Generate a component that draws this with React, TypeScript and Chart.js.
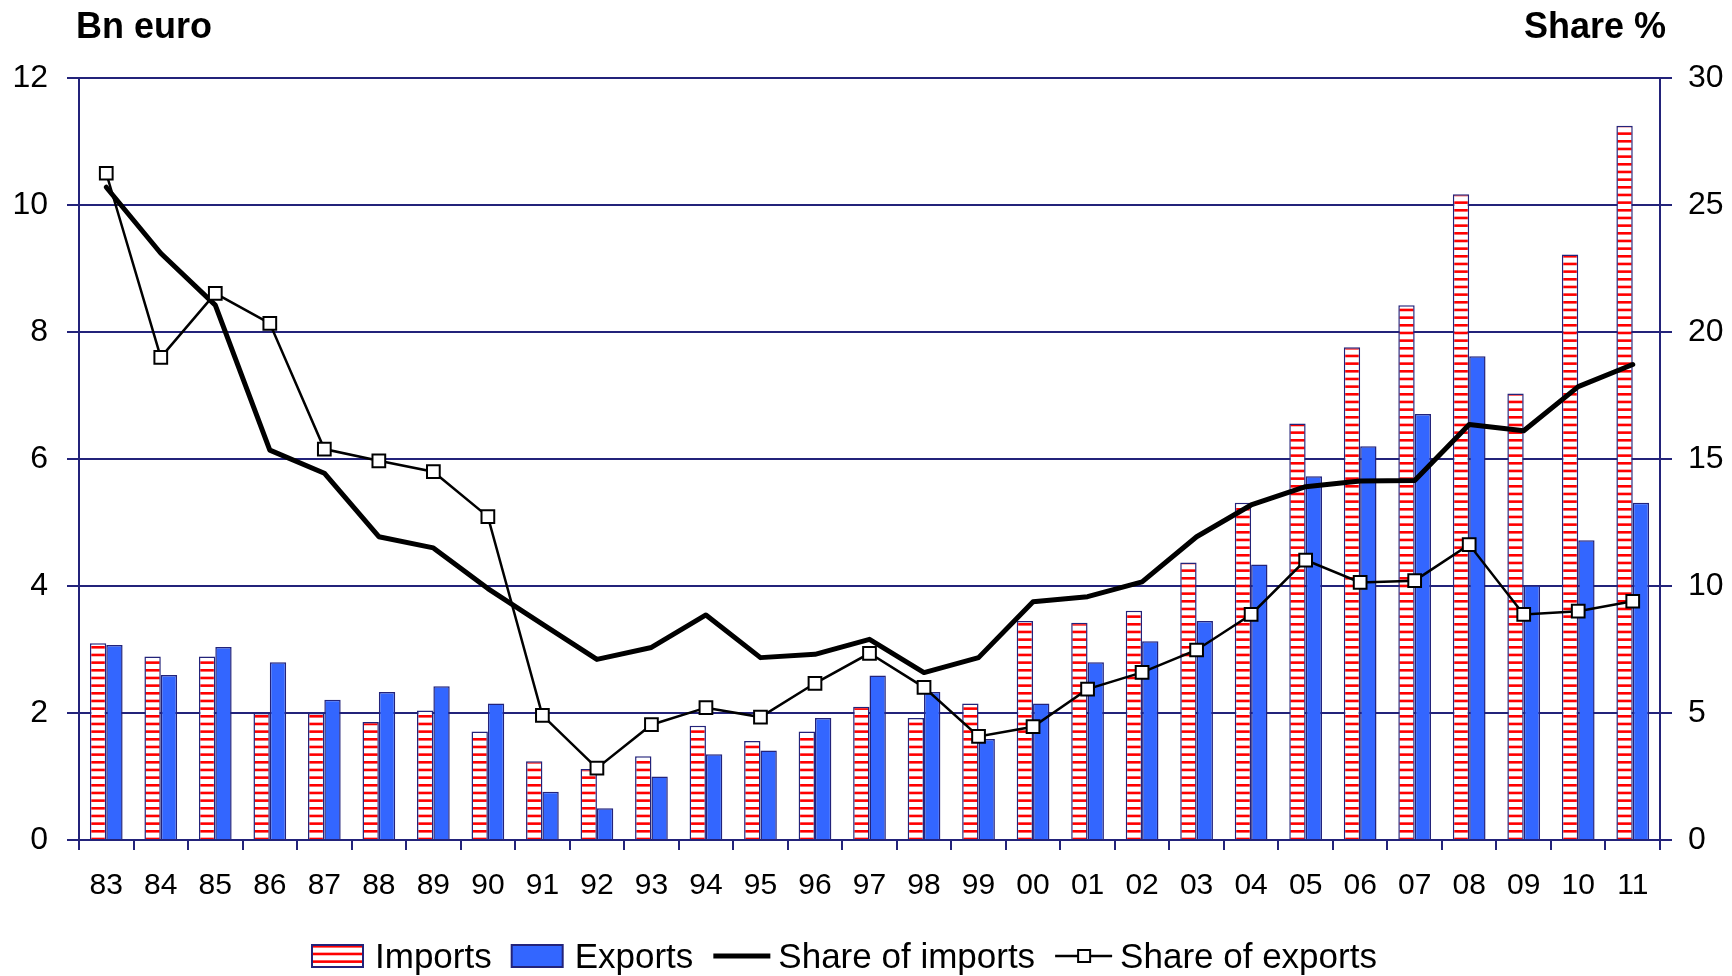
import React, { useEffect, useRef } from 'react';
import { Chart, registerables } from 'chart.js';

Chart.register(...registerables);

const YEARS = ['83', '84', '85', '86', '87', '88', '89', '90', '91', '92', '93', '94', '95', '96', '97', '98', '99', '00', '01', '02', '03', '04', '05', '06', '07', '08', '09', '10', '11'];
const IMPORTS = [3.10, 2.89, 2.89, 2.00, 2.00, 1.86, 2.04, 1.71, 1.24, 1.12, 1.32, 1.80, 1.56, 1.71, 2.10, 1.92, 2.15, 3.45, 3.42, 3.61, 4.37, 5.31, 6.56, 7.76, 8.42, 10.17, 7.03, 9.22, 11.25];
const EXPORTS = [3.07, 2.60, 3.04, 2.80, 2.21, 2.33, 2.42, 2.15, 0.76, 0.50, 1.00, 1.35, 1.41, 1.92, 2.59, 2.33, 1.59, 2.15, 2.80, 3.13, 3.45, 4.34, 5.73, 6.20, 6.71, 7.62, 4.01, 4.72, 5.31];
const SHARE_IMPORTS = [25.7, 23.1, 21.06, 15.35, 14.44, 11.94, 11.5, 9.9, 8.5, 7.11, 7.58, 8.86, 7.18, 7.31, 7.90, 6.59, 7.18, 9.38, 9.58, 10.16, 11.94, 13.19, 13.91, 14.13, 14.15, 16.36, 16.11, 17.85, 18.72];
const SHARE_EXPORTS = [26.25, 19.0, 21.52, 20.34, 15.39, 14.93, 14.50, 12.73, 4.91, 2.83, 4.54, 5.21, 4.84, 6.17, 7.35, 6.01, 4.08, 4.46, 5.94, 6.60, 7.48, 8.88, 11.02, 10.14, 10.21, 11.63, 8.88, 9.01, 9.40];

const LEFT_TITLE = 'Bn euro';
const RIGHT_TITLE = 'Share %';
const LEFT_MAX = 12;
const LEFT_STEP = 2;
const RIGHT_MAX = 30;
const RIGHT_STEP = 5;

const NAVY = '#23237a';
const BLUE = '#3366ff';
const FONT = '"Liberation Sans", Arial, Helvetica, sans-serif';

function makeStripePattern(ctx: CanvasRenderingContext2D): CanvasPattern | string {
  const c = document.createElement('canvas');
  c.width = 8;
  c.height = 23;
  const g = c.getContext('2d');
  if (!g) return '#ff8888';
  g.fillStyle = '#ffffff';
  g.fillRect(0, 0, 8, 23);
  g.fillStyle = '#ff0000';
  for (let i = 0; i < 3; i++) g.fillRect(0, 2 + (i * 23) / 3, 8, 2.6);
  return ctx.createPattern(c, 'repeat') || '#ff8888';
}

export default function App() {
  const ref = useRef<HTMLCanvasElement | null>(null);

  useEffect(() => {
    const canvas = ref.current;
    if (!canvas) return;
    const ctx0 = canvas.getContext('2d') as CanvasRenderingContext2D;
    const stripes = makeStripePattern(ctx0);

    const overlay = {
      id: 'overlay',
      afterDraw(chart: any) {
        const ctx: CanvasRenderingContext2D = chart.ctx;
        ctx.save();
        ctx.fillStyle = '#000';
        ctx.font = `bold 36px ${FONT}`;
        ctx.textBaseline = 'alphabetic';
        ctx.textAlign = 'left';
        ctx.fillText(LEFT_TITLE, 76, 38);
        ctx.textAlign = 'right';
        ctx.fillText(RIGHT_TITLE, 1666, 38);

        // legend
        const ds = chart.data.datasets;
        const items = [
          { kind: 'stripes', label: ds[2].label },
          { kind: 'blue', label: ds[3].label },
          { kind: 'thick', label: ds[1].label },
          { kind: 'marker', label: ds[0].label },
        ];
        ctx.font = `35px ${FONT}`;
        ctx.textAlign = 'left';
        ctx.textBaseline = 'alphabetic';
        const cy = 956;
        let x = 312;
        for (const it of items) {
          if (it.kind === 'stripes' || it.kind === 'blue') {
            ctx.fillStyle = it.kind === 'stripes' ? (stripes as any) : BLUE;
            ctx.fillRect(x, cy - 11, 51, 22);
            ctx.strokeStyle = NAVY;
            ctx.lineWidth = 2;
            ctx.strokeRect(x, cy - 11, 51, 22);
            x += 51 + 12;
          } else {
            ctx.strokeStyle = '#000';
            ctx.lineWidth = it.kind === 'thick' ? 5 : 2.5;
            ctx.beginPath();
            ctx.moveTo(x, cy);
            ctx.lineTo(x + 57, cy);
            ctx.stroke();
            if (it.kind === 'marker') {
              ctx.fillStyle = '#fff';
              ctx.fillRect(x + 23, cy - 6, 12, 12);
              ctx.lineWidth = 2;
              ctx.strokeRect(x + 23, cy - 6, 12, 12);
            }
            x += 57 + 8;
          }
          ctx.fillStyle = '#000';
          ctx.fillText(it.label, x, 968);
          x += ctx.measureText(it.label).width + 20;
        }
        ctx.restore();
      },
    };

    const chart = new Chart(canvas, {
      type: 'bar',
      data: {
        labels: YEARS,
        datasets: [
          {
            type: 'line',
            label: 'Share of exports',
            data: SHARE_EXPORTS,
            yAxisID: 'y1',
            borderColor: '#000',
            borderWidth: 2.5,
            pointStyle: 'rect',
            pointRadius: 9,
            pointBackgroundColor: '#fff',
            pointBorderColor: '#000',
            pointBorderWidth: 2,
            tension: 0,
            fill: false,
            order: 0,
          } as any,
          {
            type: 'line',
            label: 'Share of imports',
            data: SHARE_IMPORTS,
            yAxisID: 'y1',
            borderColor: '#000',
            borderWidth: 5,
            pointRadius: 0,
            tension: 0,
            fill: false,
            borderJoinStyle: 'round',
            borderCapStyle: 'round',
            order: 1,
          } as any,
          {
            type: 'bar',
            label: 'Imports',
            data: IMPORTS,
            yAxisID: 'y',
            backgroundColor: stripes as any,
            borderColor: NAVY,
            borderWidth: 1.5,
            categoryPercentage: 0.6,
            barPercentage: 1.0,
            order: 2,
          } as any,
          {
            type: 'bar',
            label: 'Exports',
            data: EXPORTS,
            yAxisID: 'y',
            backgroundColor: BLUE,
            borderColor: NAVY,
            borderWidth: 1.5,
            categoryPercentage: 0.6,
            barPercentage: 1.0,
            order: 2,
          } as any,
        ],
      },
      options: {
        responsive: false,
        animation: false,
        devicePixelRatio: 1,
        layout: { padding: { top: 78, bottom: 72, left: 0, right: 0 } },
        plugins: {
          legend: { display: false },
          tooltip: { enabled: false },
        },
        scales: {
          x: {
            offset: true,
            grid: {
              drawOnChartArea: false,
              drawTicks: true,
              tickLength: 10,
              color: NAVY,
              lineWidth: 2,
              offset: true,
            },
            border: { display: true, color: NAVY, width: 2 },
            ticks: {
              color: '#000',
              font: { family: FONT, size: 30 },
              padding: 18,
              maxRotation: 0,
              autoSkip: false,
            },
            afterFit: (s: any) => {
              s.height = 64;
            },
          },
          y: {
            position: 'left',
            min: 0,
            max: LEFT_MAX,
            ticks: {
              stepSize: LEFT_STEP,
              color: '#000',
              font: { family: FONT, size: 32 },
              padding: 19,
            },
            grid: { color: NAVY, lineWidth: 2, tickLength: 12 },
            border: { display: true, color: NAVY, width: 2 },
            afterFit: (s: any) => {
              s.width = 79;
            },
          },
          y1: {
            position: 'right',
            min: 0,
            max: RIGHT_MAX,
            ticks: {
              stepSize: RIGHT_STEP,
              color: '#000',
              font: { family: FONT, size: 32 },
              padding: 16,
            },
            grid: { drawOnChartArea: false, color: NAVY, lineWidth: 2, tickLength: 12 },
            border: { display: true, color: NAVY, width: 2 },
            afterFit: (s: any) => {
              s.width = 72;
            },
          },
        },
      } as any,
      plugins: [overlay],
    });

    return () => chart.destroy();
  }, []);

  return (
    <div style={{ position: 'fixed', left: 0, top: 0, width: 1732, height: 976, background: '#fff' }}>
      <canvas ref={ref} width={1732} height={976} style={{ display: 'block' }} />
    </div>
  );
}
